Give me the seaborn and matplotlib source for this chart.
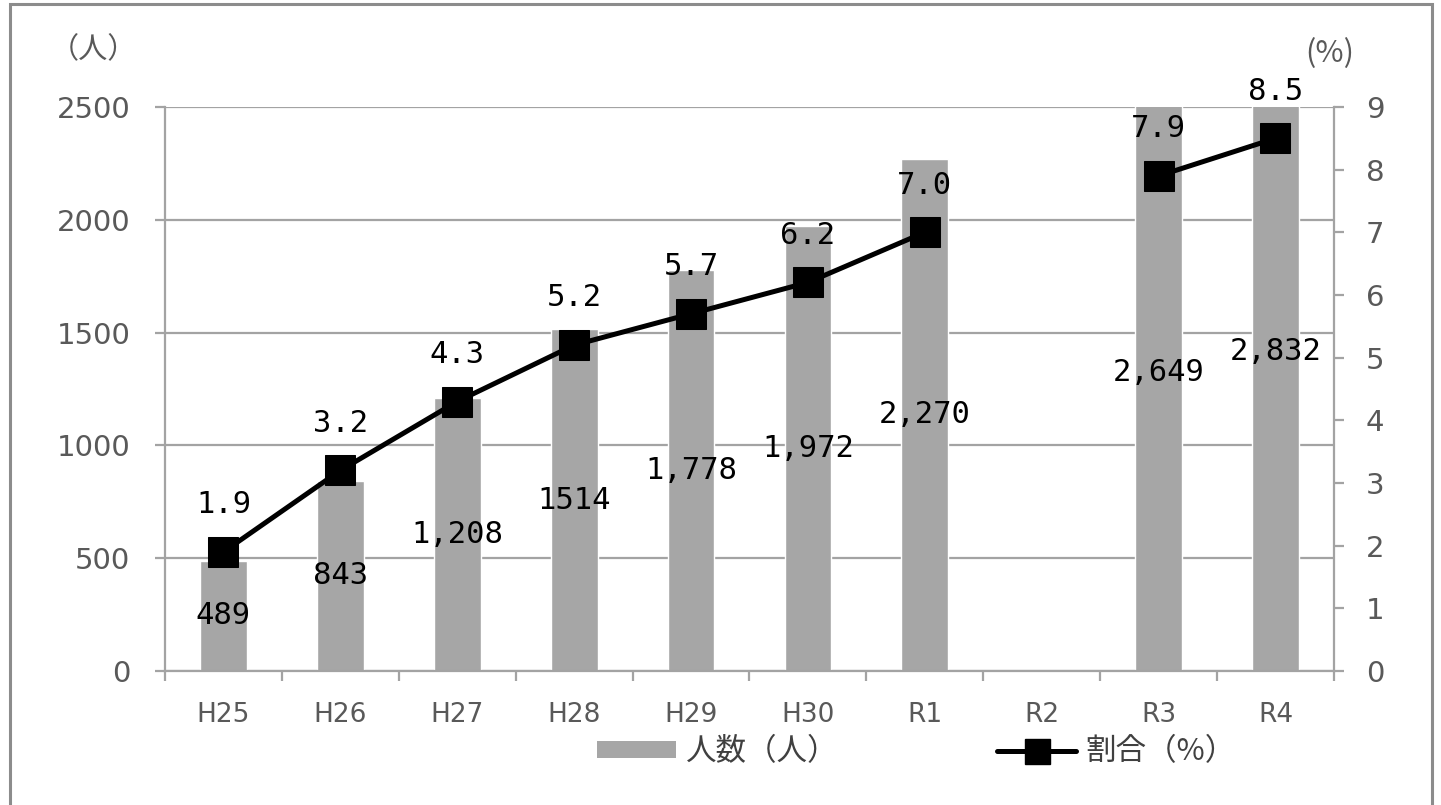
import numpy as np
import pandas as pd
import matplotlib
matplotlib.use("Agg")
import matplotlib.pyplot as plt
from matplotlib.patches import Patch, Rectangle
from matplotlib.lines import Line2D
import seaborn as sns

# ---- data ----
years = ["H25", "H26", "H27", "H28", "H29", "H30", "R1", "R2", "R3", "R4"]
people = [489, 843, 1208, 1514, 1778, 1972, 2270, np.nan, 2649, 2832]
people_labels = ["489", "843", "1,208", "1514", "1,778", "1,972", "2,270", "", "2,649", "2,832"]
ratio = [1.9, 3.2, 4.3, 5.2, 5.7, 6.2, 7.0, np.nan, 7.9, 8.5]
left_ticks = [0, 500, 1000, 1500, 2000, 2500]
right_ticks = list(range(0, 10))

sns.set_theme(style="white")
plt.rcParams["font.family"] = ["DejaVu Sans", "Noto Sans CJK JP"]

BAR = "#a6a6a6"
GRID = "#a3a3a3"
TICK = "#595959"

fig = plt.figure(figsize=(14.41, 8.05), dpi=100)
ax = fig.add_axes([0.1145, 0.1665, 0.9257 - 0.1145, 0.8671 - 0.1665])

df = pd.DataFrame({"year": years, "people": people, "ratio": ratio,
                   "pos": np.arange(len(years))})
# line segments are split where a year has no data
df["seg"] = df["ratio"].isna().cumsum()

sns.barplot(data=df, x="year", y="people", order=years, color=BAR,
            saturation=1, width=0.4, ax=ax, zorder=2)
ax.set_ylim(0, 2500)
ax.set_xlim(-0.5, len(years) - 0.5)
ax.set_yticks(left_ticks)
ax.set_xlabel("")
ax.set_ylabel("")
ax.yaxis.grid(True, color=GRID, lw=1.6, zorder=0)
ax.set_axisbelow(True)
for s in ["left", "bottom"]:
    ax.spines[s].set_color(GRID)
    ax.spines[s].set_linewidth(1.6)
ax.spines["top"].set_visible(False)
ax.spines["right"].set_visible(False)

# category ticks sit on the boundaries between years
ax.set_xticks(np.arange(len(years)))
ax.set_xticklabels(years)
ax.set_xticks(np.arange(-0.5, len(years)), minor=True)
ax.tick_params(axis="x", which="major", length=0, pad=22, labelsize=19, labelcolor=TICK)
ax.tick_params(axis="x", which="minor", length=7, width=1.6, color=GRID, direction="out", bottom=True)
ax.tick_params(axis="y", length=7, width=1.6, color=GRID, direction="out", left=True,
               pad=18, labelsize=21, labelcolor=TICK)

# counts written halfway up each bar
for i, (v, lab) in enumerate(zip(people, people_labels)):
    if not np.isnan(v):
        ax.text(i, v / 2, lab, ha="center", va="center", fontsize=22,
                family="DejaVu Sans Mono", color="black", zorder=5)

ax2 = ax.twinx()
sns.lineplot(data=df.dropna(subset=["ratio"]), x="pos", y="ratio", units="seg",
             estimator=None, color="black", lw=3.6, marker="s", markersize=21,
             markeredgecolor="black", ax=ax2, zorder=4, legend=False)
ax2.set_ylim(0, 9)
ax2.set_yticks(right_ticks)
ax2.set_xlim(-0.5, len(years) - 0.5)
ax2.set_xlabel("")
ax2.set_ylabel("")
ax2.grid(False)
for s in ["left", "top", "bottom"]:
    ax2.spines[s].set_visible(False)
ax2.spines["right"].set_color(GRID)
ax2.spines["right"].set_linewidth(1.6)
ax2.tick_params(axis="y", length=7, width=1.6, color=GRID, direction="out", right=True,
                pad=16, labelsize=21, labelcolor=TICK)

for i, r in enumerate(ratio):
    if not np.isnan(r):
        ax2.annotate(f"{r:.1f}", (i, r), xytext=(0, 34), textcoords="offset points",
                     ha="center", va="center", fontsize=22, family="DejaVu Sans Mono",
                     color="black", zorder=6, annotation_clip=False)

# unit captions
cjk = ["Noto Sans CJK JP", "DejaVu Sans"]
fig.text(0.065, 0.938, "（人）", ha="center", va="center", fontsize=21, color=TICK, family=cjk)
fig.text(0.923, 0.933, "(%)", ha="center", va="center", fontsize=22, color=TICK, family=cjk)

handles = [Patch(facecolor=BAR, edgecolor="none"),
           Line2D([0], [0], color="black", lw=3.6, marker="s", markersize=18)]
fig.legend(handles, ["人数（人）", "割合（%）"], loc="center", bbox_to_anchor=(0.636, 0.066),
           ncol=2, frameon=False, prop={"family": cjk, "size": 22},
           handlelength=2.6, handleheight=0.5, handletextpad=0.3, columnspacing=5.2,
           labelcolor="#404040")

# outer frame
fig.patches.append(Rectangle((0.0069, -0.02), 0.9938 - 0.0069, 0.995 + 0.02,
                             transform=fig.transFigure, fill=False,
                             edgecolor="#8c8c8c", lw=2.2))

fig.savefig("out.png", dpi=100)
